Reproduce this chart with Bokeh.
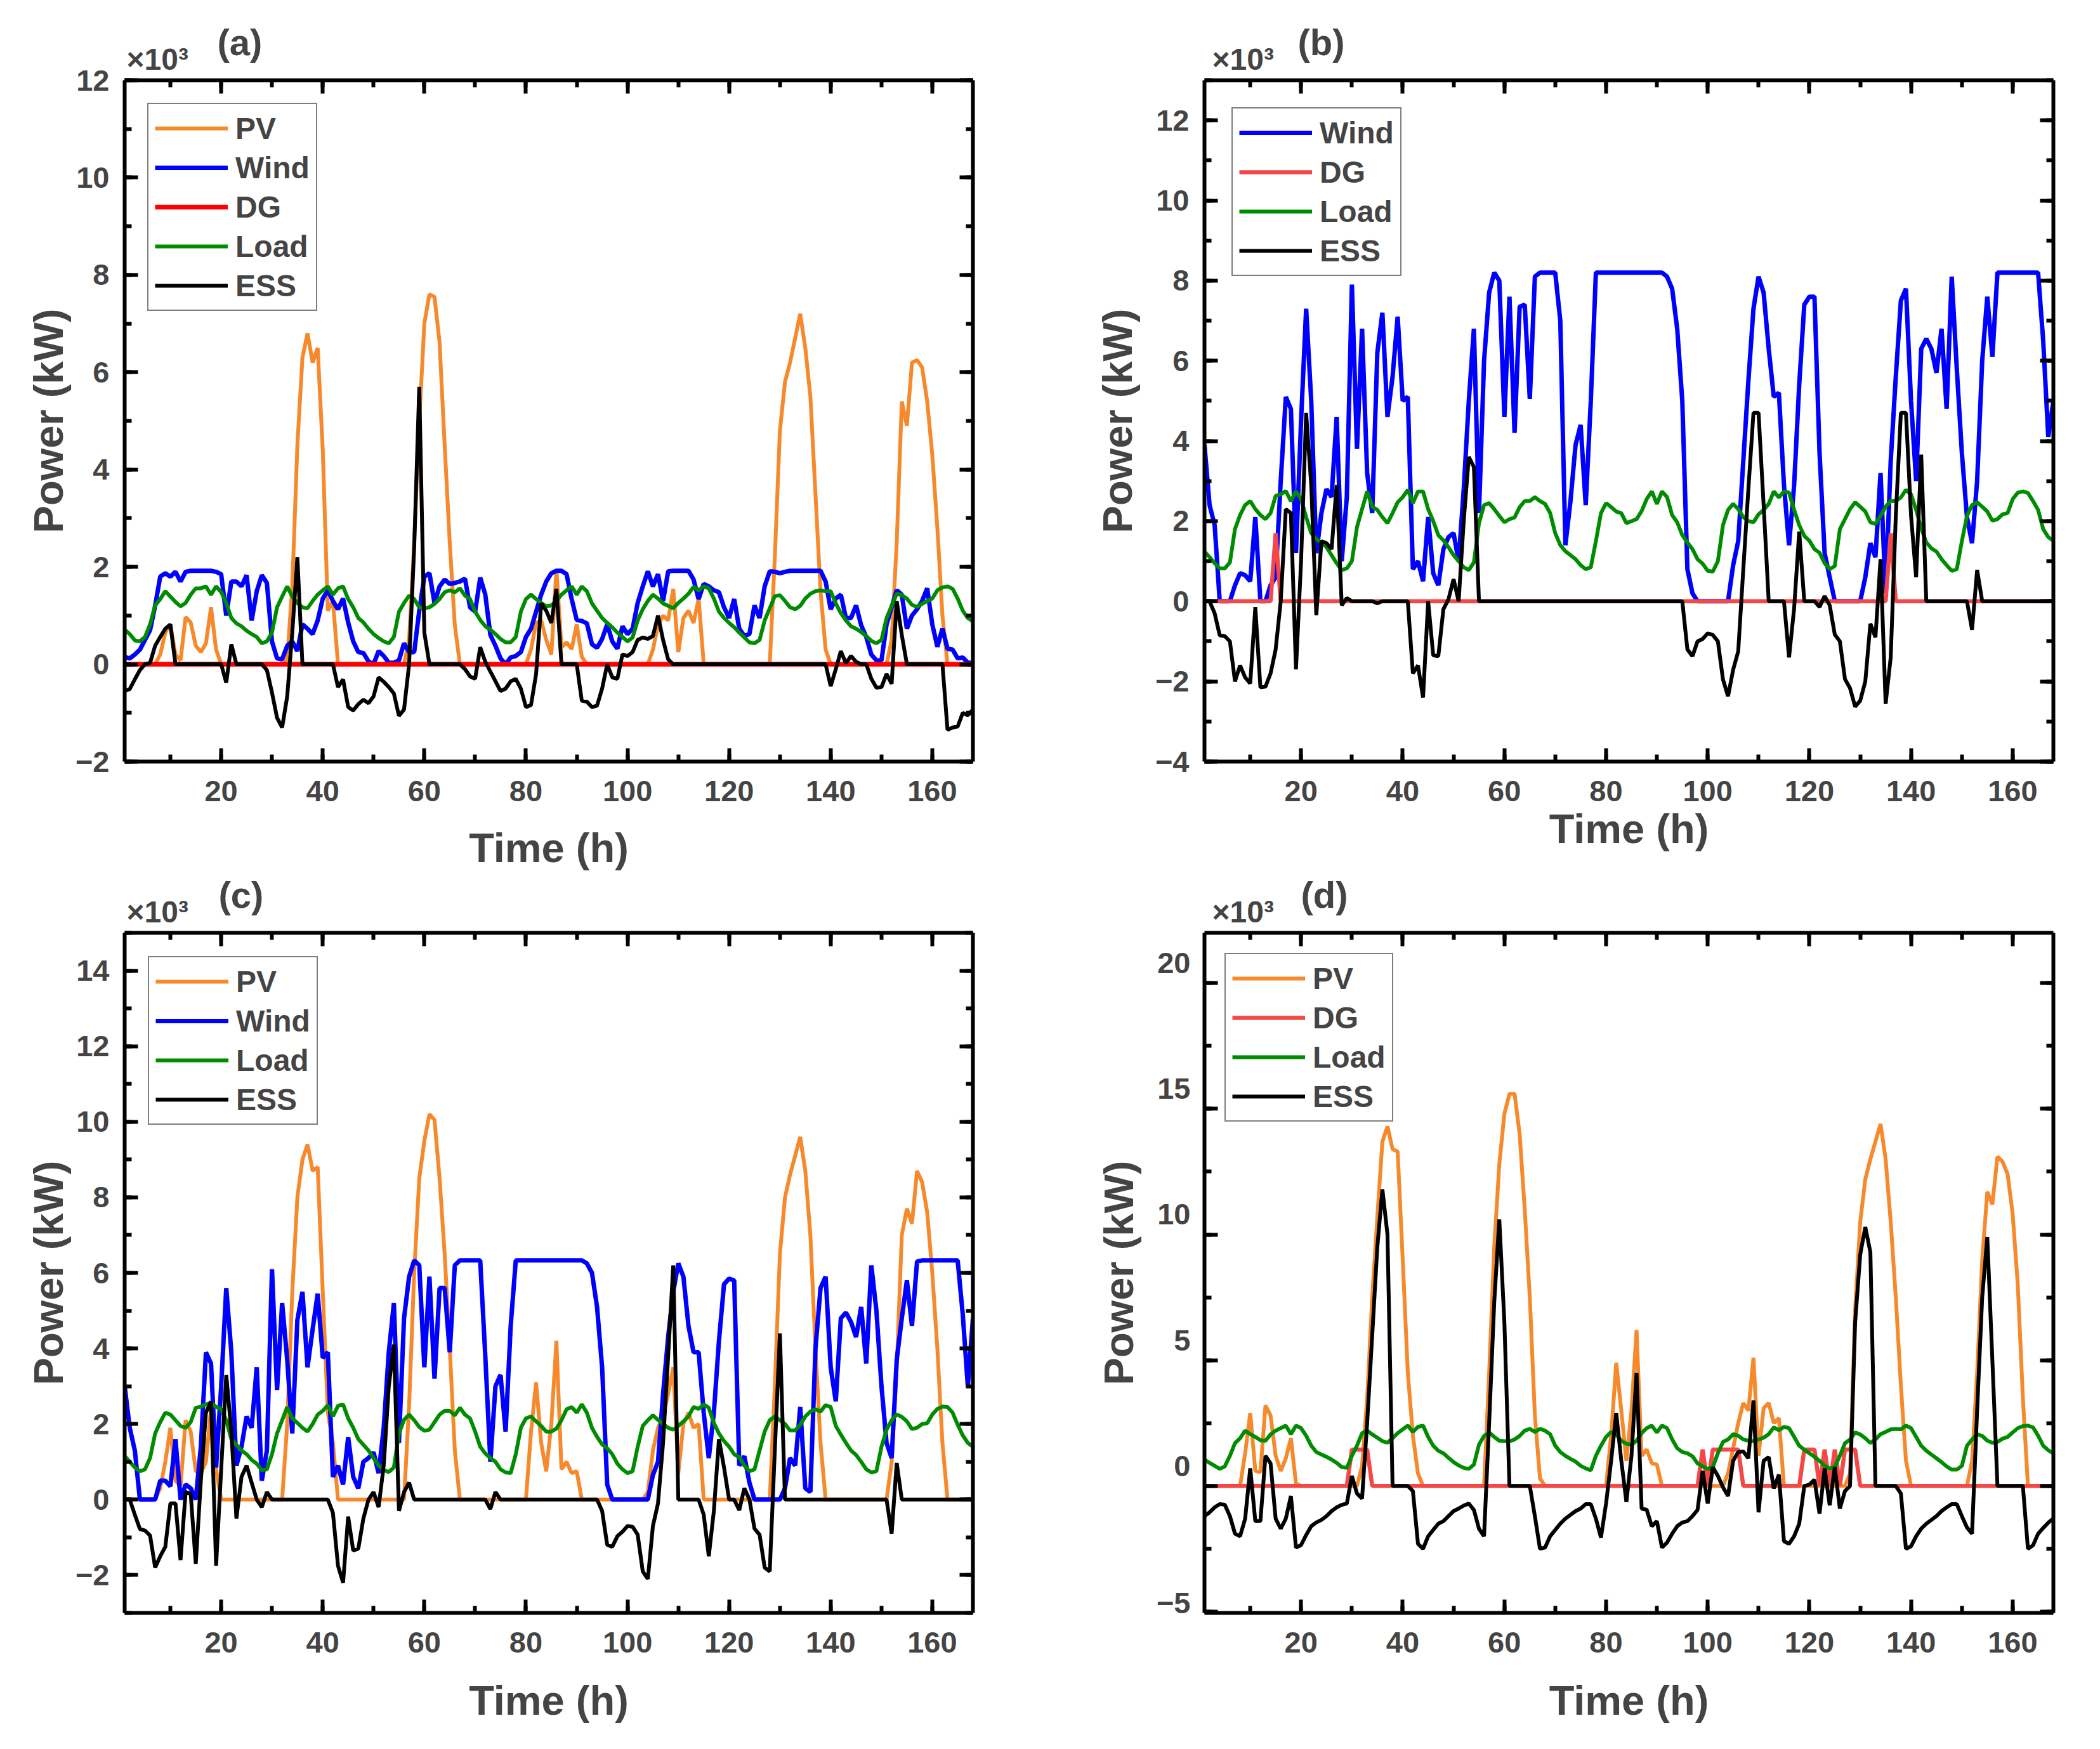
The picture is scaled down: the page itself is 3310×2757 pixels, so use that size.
from bokeh.plotting import figure
from bokeh.layouts import column, row
from bokeh.models import (LinearAxis, SingleIntervalTicker, FixedTicker, Range1d,
                          Title, Legend, LegendItem)
from bokeh.embed import file_html
from bokeh.resources import INLINE

FONT = "Liberation Sans"

hours = list(range(1, 169))

# ---------------- panel (a) ----------------
pv_a = [0, 0, 0, 0, 0, 0, 0, 0.2, 0.65, 0.82, 0.2, 0.08,
        0.97, 0.86, 0.38, 0.25, 0.43, 1.17, 0.3, 0, 0, 0, 0, 0,
        0, 0, 0, 0, 0, 0, 0, 0, 0.1, 1.6, 4.5, 6.3,
        6.8, 6.2, 6.5, 4.4, 1.1, 1.3, 0, 0, 0, 0, 0, 0,
        0, 0, 0, 0, 0, 0, 0, 0, 0.5, 2.5, 5.0, 7.0,
        7.6, 7.55, 6.6, 4.5, 2.5, 0.8, 0, 0, 0, 0, 0, 0,
        0, 0, 0, 0, 0, 0, 0, 0, 0.3, 0.85, 0.9, 0.5,
        0.2, 1.95, 0.35, 0.45, 0.31, 0.82, 0.15, 0, 0, 0, 0, 0,
        0, 0, 0, 0, 0, 0, 0, 0, 0.3, 0.8, 1.0, 0.9,
        1.55, 0.25, 0.95, 1.1, 0.85, 1.35, 0, 0, 0, 0, 0, 0,
        0, 0, 0, 0, 0, 0, 0, 0, 2.2, 4.8, 5.8, 6.2,
        6.7, 7.2, 6.5, 5.5, 3.5, 1.5, 0.3, 0, 0, 0, 0, 0,
        0, 0, 0, 0, 0, 0, 0, 0.5, 2.5, 5.4, 4.9, 6.2,
        6.25, 6.1, 5.4, 4.3, 2.8, 1.0, 0, 0, 0, 0, 0, 0]

wind_a = [0.15, 0.12, 0.2, 0.3, 0.5, 0.7, 1.2, 1.8, 1.87, 1.8, 1.9, 1.7,
          1.9, 1.92, 1.92, 1.92, 1.92, 1.92, 1.9, 1.85, 1.0, 1.7, 1.7, 1.6,
          1.83, 0.9, 1.5, 1.83, 1.67, 0.47, 0.12, 0.1, 0.38, 0.47, 0.27, 0.82,
          0.73, 0.62, 0.9, 1.35, 1.52, 1.3, 1.13, 1.35, 0.86, 0.47, 0.25, 0.23,
          0.06, 0, 0.27, 0.17, 0.03, 0.03, 0.08, 0.43, 0.25, 0.25, 1.1, 1.8,
          1.87, 1.26, 1.6, 1.74, 1.65, 1.67, 1.7, 1.76, 1.17, 1.08, 1.78, 1.43,
          0.6, 0.38, 0.12, 0, 0.14, 0.17, 0.25, 0.56, 0.73, 1.08, 1.43, 1.7,
          1.87, 1.92, 1.92, 1.85, 1.34, 0.91, 0.89, 0.84, 0.41, 0.34, 0.52, 0.82,
          0.47, 0.32, 0.78, 0.62, 0.73, 1.26, 1.6, 1.91, 1.6, 1.85, 1.3, 1.91,
          1.92, 1.92, 1.92, 1.92, 1.74, 1.34, 1.65, 1.6, 1.52, 1.48, 1.17, 0.95,
          1.34, 0.73, 0.58, 0.62, 1.21, 0.95, 1.6, 1.91, 1.9, 1.87, 1.9, 1.92,
          1.92, 1.92, 1.92, 1.92, 1.92, 1.92, 1.7, 1.13, 1.35, 1.43, 0.95, 0.95,
          1.21, 0.8, 0.56, 0.2, 0.08, 0.08, 0.82, 1.17, 1.52, 1.43, 0.73, 1.0,
          1.13, 1.3, 1.56, 0.82, 0.36, 0.73, 0.32, 0.3, 0.12, 0.14, 0.03, 0.03]

dg_a = [0.0] * 168

load_a = [0.71, 0.62, 0.49, 0.47, 0.56, 0.82, 1.21, 1.34, 1.5, 1.39, 1.28, 1.19,
          1.26, 1.43, 1.56, 1.56, 1.6, 1.43, 1.6, 1.48, 1.26, 0.95, 0.84, 0.78,
          0.69, 0.62, 0.56, 0.43, 0.47, 0.65, 1.17, 1.39, 1.6, 1.39, 1.26, 1.17,
          1.15, 1.3, 1.43, 1.52, 1.6, 1.43, 1.56, 1.6, 1.34, 1.17, 0.95, 0.86,
          0.73, 0.62, 0.54, 0.47, 0.43, 0.56, 1.08, 1.26, 1.41, 1.34, 1.17, 1.15,
          1.17, 1.24, 1.34, 1.48, 1.52, 1.48, 1.56, 1.41, 1.34, 1.08, 0.91, 0.78,
          0.71, 0.62, 0.52, 0.45, 0.45, 0.56, 1.08, 1.34, 1.43, 1.34, 1.26, 1.19,
          1.21, 1.3, 1.43, 1.52, 1.6, 1.43, 1.6, 1.5, 1.25, 1.1, 0.95, 0.85,
          0.76, 0.65, 0.56, 0.47, 0.55, 0.9, 1.13, 1.3, 1.43, 1.35, 1.25, 1.2,
          1.15, 1.26, 1.35, 1.45, 1.59, 1.52, 1.6, 1.56, 1.35, 1.08, 0.95, 0.85,
          0.76, 0.65, 0.55, 0.45, 0.43, 0.5, 0.9, 1.15, 1.4, 1.42, 1.3, 1.17,
          1.13, 1.2, 1.35, 1.45, 1.5, 1.52, 1.5, 1.5, 1.25, 1.05, 0.9, 0.78,
          0.73, 0.66, 0.58, 0.48, 0.43, 0.5, 0.95, 1.2, 1.45, 1.42, 1.35, 1.22,
          1.18, 1.24, 1.3, 1.35, 1.52, 1.58, 1.6, 1.55, 1.35, 1.1, 0.95, 0.88]

ess_a = [-0.55, -0.51, -0.31, -0.12, 0, 0.03, 0.38, 0.56, 0.73, 0.82, 0, 0,
         0, 0, 0, 0, 0, 0, 0, 0, -0.38, 0.41, 0, 0,
         0, 0, 0, 0, -0.12, -0.58, -1.1, -1.3, -0.66, 0.65, 2.2, 0,
         0, 0, 0, 0, 0, 0, -0.47, -0.31, -0.88, -0.95, -0.82, -0.73,
         -0.8, -0.66, -0.27, -0.36, -0.47, -0.6, -1.06, -0.93, 0, 2.4, 5.7, 0.65,
         0, 0, 0, 0, 0, 0, 0, -0.1, -0.25, -0.3, 0.35, 0.05,
         -0.15, -0.35, -0.55, -0.5, -0.35, -0.3, -0.5, -0.88, -0.84, -0.2, 1.25, 1.1,
         0.85, 1.55, 0, 0, 0, 0, -0.75, -0.77, -0.88, -0.85, -0.5, 0,
         -0.27, -0.3, 0.2, 0.17, 0.25, 0.5, 0.55, 0.52, 0.58, 1.0, 0.5, 0.1,
         0, 0, 0, 0, 0, 0, 0, 0, 0, 0, 0, 0,
         0, 0, 0, 0, 0, 0, 0, 0, 0, 0, 0, 0,
         0, 0, 0, 0, 0, 0, 0, -0.45, -0.1, 0.27, 0.02, 0.17,
         0.05, 0, 0, -0.3, -0.48, -0.47, -0.2, -0.4, 1.3, 0.6, 0, 0,
         0, 0, 0, 0, 0, 0, -1.35, -1.3, -1.28, -1.0, -1.05, -0.93]

# ---------------- panel (b) ----------------
wind_b = [3.9, 2.4, 1.9, 0, 0, 0, 0.4, 0.7, 0.65, 0.5, 2.1, 0,
          0, 0.4, 0.6, 3.0, 5.1, 4.8, 1.2, 4.5, 7.3, 5.0, 1.2, 2.2,
          2.8, 2.6, 4.6, 1.0, 2.6, 7.9, 3.8, 6.8, 3.2, 2.2, 6.2, 7.2,
          4.6, 5.6, 7.1, 5.0, 5.1, 0.8, 1.0, 0.5, 2.1, 0.7, 0.4, 1.3,
          1.6, 1.7, 1.0, 2.8, 5.0, 6.8, 2.2, 6.0, 7.7, 8.2, 8.0, 4.6,
          7.6, 4.2, 7.35, 7.4, 5.05, 8.1, 8.2, 8.2, 8.2, 8.2, 7.0, 1.4,
          2.5, 3.9, 4.4, 2.4, 5.0, 8.2, 8.2, 8.2, 8.2, 8.2, 8.2, 8.2,
          8.2, 8.2, 8.2, 8.2, 8.2, 8.2, 8.2, 8.1, 7.8, 6.8, 5.0, 0.8,
          0.2, 0, 0, 0, 0, 0, 0, 0, 0.9, 1.5, 3.5, 5.5,
          7.3, 8.1, 7.7, 6.3, 5.1, 5.2, 2.9, 1.4, 2.9, 5.4, 7.4, 7.6,
          7.6, 3.7, 1.2, 0.6, 0, 0, 0, 0, 0, 0, 0.6, 1.45,
          1.1, 3.2, 0.2, 3.5, 5.6, 7.5, 7.8, 5.0, 3.0, 6.3, 6.55, 6.3,
          5.7, 6.8, 4.8, 8.1, 5.8, 3.7, 2.1, 1.45, 3.0, 6.0, 7.6, 6.1,
          8.2, 8.2, 8.2, 8.2, 8.2, 8.2, 8.2, 8.2, 8.2, 6.5, 4.1, 5.0]

dg_b = [0, 0, 0, 0, 0, 0, 0, 0, 0, 0, 0, 0,
        0, 0, 1.7, 0, 0, 0, 0, 0, 0, 0, 0, 0,
        0, 0, 0, 0, 0, 0, 0, 0, 0, 0, 0, 0,
        0, 0, 0, 0, 0, 0, 0, 0, 0, 0, 0, 0,
        0, 0, 0, 0, 0, 0, 0, 0, 0, 0, 0, 0,
        0, 0, 0, 0, 0, 0, 0, 0, 0, 0, 0, 0,
        0, 0, 0, 0, 0, 0, 0, 0, 0, 0, 0, 0,
        0, 0, 0, 0, 0, 0, 0, 0, 0, 0, 0, 0,
        0, 0, 0, 0, 0, 0, 0, 0, 0, 0, 0, 0,
        0, 0, 0, 0, 0, 0, 0, 0, 0, 0, 0, 0,
        0, 0, 0, 0, 0, 0, 0, 0, 0, 0, 0, 0,
        0, 0, 0, 1.7, 0, 0, 0, 0, 0, 0, 0, 0,
        0, 0, 0, 0, 0, 0, 0, 0, 0, 0, 0, 0,
        0, 0, 0, 0, 0, 0, 0, 0, 0, 0, 0, 0]

load_b = [1.24, 1.1, 0.95, 0.82, 0.82, 0.97, 1.8, 2.15, 2.4, 2.5, 2.3, 2.15,
          2.05, 2.2, 2.63, 2.67, 2.75, 2.5, 2.74, 2.55, 2.1, 1.7, 1.55, 1.47,
          1.35, 1.15, 0.95, 0.78, 0.82, 1.0, 1.85, 2.3, 2.74, 2.36, 2.28, 2.1,
          1.95, 2.2, 2.47, 2.6, 2.78, 2.45, 2.74, 2.74, 2.3, 2.0, 1.65, 1.52,
          1.35, 1.15, 1.0, 0.85, 0.78, 0.97, 1.95, 2.4, 2.45, 2.3, 2.13, 1.97,
          2.05, 2.09, 2.35, 2.5, 2.5, 2.6, 2.5, 2.43, 2.2, 1.7, 1.4, 1.25,
          1.15, 1.05, 0.9, 0.8, 0.85, 1.5, 2.2, 2.45, 2.35, 2.24, 2.2, 1.95,
          2.0, 2.05, 2.25, 2.55, 2.74, 2.43, 2.74, 2.6, 2.15, 1.97, 1.65, 1.47,
          1.3, 1.05, 0.94, 0.76, 0.74, 1.0, 1.9, 2.28, 2.43, 2.3, 2.1, 2.0,
          1.97, 2.17, 2.28, 2.43, 2.74, 2.59, 2.74, 2.71, 2.28, 1.9, 1.63, 1.51,
          1.3, 1.21, 0.95, 0.8, 0.88, 1.8, 2.05, 2.3, 2.47, 2.36, 2.24, 1.97,
          1.93, 2.13, 2.36, 2.5, 2.5, 2.59, 2.78, 2.67, 2.28, 1.82, 1.47, 1.32,
          1.24, 1.05, 0.9, 0.76, 0.8, 1.5, 2.13, 2.4, 2.47, 2.36, 2.24, 2.01,
          2.05, 2.17, 2.2, 2.55, 2.71, 2.74, 2.7, 2.5, 2.28, 1.8, 1.6, 1.51]

ess_b = [0, 0, -0.3, -0.85, -0.87, -1.0, -2.0, -1.6, -1.9, -2.05, -0.15, -2.15,
         -2.13, -1.8, -1.2, 0, 2.3, 2.2, -1.7, 1.0, 4.7, 2.9, -0.35, 1.5,
         1.45, 1.3, 2.9, -0.1, 0.08, 0, 0, 0, 0, 0, -0.05, 0,
         0, 0, 0, 0, 0, -1.8, -1.6, -2.4, 0, -1.35, -1.37, -0.2,
         0.05, 0.55, 0, 2.0, 3.6, 3.35, 0, 0, 0, 0, 0, 0,
         0, 0, 0, 0, 0, 0, 0, 0, 0, 0, 0, 0,
         0, 0, 0, 0, 0, 0, 0, 0, 0, 0, 0, 0,
         0, 0, 0, 0, 0, 0, 0, 0, 0, 0, 0, -1.2,
         -1.37, -1.0, -0.94, -0.8, -0.84, -1.0, -1.95, -2.37, -1.71, -1.25, 0.8, 2.8,
         4.7, 4.7, 2.4, 0, 0, 0, 0, -1.4, -0.18, 1.74, 0, 0,
         0, -0.14, 0.13, -0.1, -0.83, -1.0, -1.94, -2.17, -2.63, -2.48, -2.0, -0.56,
         -0.9, 1.05, -2.56, -1.4, 2.13, 4.7, 4.7, 2.13, 0.6, 3.66, 0, 0,
         0, 0, 0, 0, 0, 0, 0, -0.71, 0.78, 0, 0, 0,
         0, 0, 0, 0, 0, 0, 0, 0, 0, 0, 0, 0]

# ---------------- panel (c) ----------------
pv_c = [0, 0, 0, 0, 0, 0, 0, 0.3, 1.0, 1.9, 0.5, 0.35,
        2.1, 1.8, 0.75, 0.7, 1.0, 2.4, 0.8, 0, 0, 0, 0, 0,
        0, 0, 0, 0, 0, 0, 0, 0, 2.0, 5.5, 8.0, 9.0,
        9.4, 8.7, 8.8, 5.5, 2.3, 1.5, 0, 0, 0, 0, 0, 0,
        0, 0, 0, 0, 0, 0, 0, 0, 2.5, 6.0, 8.5, 9.5,
        10.2, 10.05, 8.5, 6.5, 4.0, 1.3, 0, 0, 0, 0, 0, 0,
        0, 0, 0, 0, 0, 0, 0, 0, 1.8, 3.1, 1.5, 0.75,
        2.0, 4.2, 0.8, 1.0, 0.7, 0.75, 0, 0, 0, 0, 0, 0,
        0, 0, 0, 0, 0, 0, 0, 0.2, 1.3, 1.9, 2.2, 2.8,
        3.5, 0.7, 2.0, 2.3, 1.9, 2.0, 0, 0, 0, 0, 0, 0,
        0, 0, 0, 0, 0, 0, 0, 0, 3.0, 6.5, 8.0, 8.6,
        9.1, 9.6, 8.7, 7.0, 4.0, 1.5, 0, 0, 0, 0, 0, 0,
        0, 0, 0, 0, 0, 0, 0, 1.0, 3.5, 7.0, 7.7, 7.3,
        8.7, 8.4, 7.6, 6.0, 4.0, 1.5, 0, 0, 0, 0, 0, 0]

wind_c = [3.0, 1.9, 1.3, 0, 0, 0, 0, 0.5, 0.5, 0.35, 1.6, 0,
          0.4, 0.3, 0, 1.4, 3.9, 3.6, 0.85, 3.0, 5.6, 3.9, 0.9, 1.4,
          2.2, 1.9, 3.5, 0.5, 1.3, 6.1, 2.9, 5.2, 3.7, 1.75, 4.75, 5.5,
          3.5, 4.5, 5.45, 3.75, 3.9, 0.6, 0.9, 0.4, 1.65, 0.6, 0.3, 1.0,
          1.1, 1.25, 0.7, 1.9, 3.9, 5.2, 1.5, 4.8, 5.9, 6.33, 6.2, 3.5,
          5.9, 3.2, 5.6, 5.6, 3.9, 6.2, 6.33, 6.33, 6.33, 6.33, 6.33, 3.8,
          1.0, 3.0, 3.3, 1.8, 4.6, 6.33, 6.33, 6.33, 6.33, 6.33, 6.33, 6.33,
          6.33, 6.33, 6.33, 6.33, 6.33, 6.33, 6.33, 6.25, 6.0, 5.1, 3.5, 0.4,
          0, 0, 0, 0, 0, 0, 0, 0, 0.65, 1.0, 2.8, 4.3,
          5.5, 6.25, 5.9, 4.6, 3.9, 3.9, 2.3, 1.1, 2.3, 4.2, 5.7, 5.85,
          5.8, 0.9, 1.15, 0.45, 0, 0, 0, 0, 0, 0, 0.3, 1.1,
          0.9, 2.45, 0.3, 0.2, 4.0, 5.6, 5.9, 3.5, 2.6, 4.8, 4.95, 4.7,
          4.3, 5.1, 3.6, 6.2, 5.0, 3.0, 1.5, 1.1, 3.7, 4.8, 5.8, 4.6,
          6.3, 6.33, 6.33, 6.33, 6.33, 6.33, 6.33, 6.33, 6.33, 4.9, 3.0, 4.8]

load_c = [1.15, 1.0, 0.85, 0.75, 0.8, 1.1, 1.75, 2.05, 2.3, 2.25, 2.1, 1.95,
          1.9, 2.05, 2.43, 2.46, 2.52, 2.56, 2.45, 2.4, 2.1, 1.6, 1.45, 1.3,
          1.2, 1.05, 0.95, 0.78, 0.8, 1.2, 1.75, 2.1, 2.45, 2.15, 2.03, 1.9,
          1.8, 2.0, 2.25, 2.35, 2.5, 2.2, 2.48, 2.52, 2.15, 1.9, 1.6, 1.45,
          1.3, 1.1, 0.9, 0.78, 0.73, 0.85, 1.75, 2.11, 2.25, 2.1, 1.92, 1.82,
          1.85, 2.05, 2.25, 2.35, 2.35, 2.23, 2.43, 2.25, 2.15, 1.8, 1.4, 1.22,
          1.1, 1.0, 0.8, 0.72, 0.7, 1.2, 1.9, 2.15, 2.2, 2.07, 1.95, 1.8,
          1.8, 1.88, 2.1, 2.39, 2.45, 2.3, 2.52, 2.3, 1.9, 1.66, 1.46, 1.36,
          1.2, 0.95, 0.8, 0.7, 0.75, 1.4, 1.95, 2.1, 2.23, 2.11, 2.0, 1.9,
          1.85, 1.95, 2.07, 2.2, 2.45, 2.4, 2.52, 2.43, 2.03, 1.75, 1.55, 1.4,
          1.2, 1.12, 0.9, 0.75, 0.8, 1.3, 1.8, 2.1, 2.2, 2.1, 2.0, 1.83,
          1.83, 1.98, 2.2, 2.33, 2.39, 2.33, 2.5, 2.45, 1.95, 1.72, 1.5, 1.3,
          1.18, 1.0, 0.8, 0.72, 0.75, 1.4, 1.85, 2.1, 2.25, 2.19, 2.07, 1.87,
          1.9, 2.0, 2.02, 2.25, 2.4, 2.46, 2.45, 2.3, 1.98, 1.7, 1.5, 1.4]

ess_c = [0, 0, -0.4, -0.78, -0.82, -0.95, -1.8, -1.5, -1.25, -0.1, -0.1, -1.6,
         0.2, 0.15, -1.7, 0.5, 2.3, 2.6, -1.75, 0.8, 3.3, 1.8, -0.5, 0.6,
         0.9, 0.45, 0, -0.2, 0.2, 0, 0, 0, 0, 0, 0, 0,
         0, 0, 0, 0, 0, -0.35, -1.75, -2.2, -0.45, -1.35, -1.3, -0.5,
         0, 0.2, -0.2, 0.9, 3.0, 4.1, -0.3, 0.2, 0.45, 0, 0, 0,
         0, 0, 0, 0, 0, 0, 0, 0, 0, 0, 0, 0,
         -0.25, 0.2, 0, 0, 0, 0, 0, 0, 0, 0, 0, 0,
         0, 0, 0, 0, 0, 0, 0, 0, 0, 0, -0.3, -1.2,
         -1.25, -0.97, -0.85, -0.7, -0.72, -0.93, -1.9, -2.1, -0.7, -0.1, 1.5, 3.8,
         6.2, 0, 0, 0, 0, 0, -0.4, -1.5, -0.3, 1.6, 0.85, 0,
         0, -0.28, 0.3, 0, -0.77, -0.93, -1.8, -1.9, 1.3, 4.4, 0, 0,
         0, 0, 0, 0, 0, 0, 0, 0, 0, 0, 0, 0,
         0, 0, 0, 0, 0, 0, 0, -0.9, 0.97, 0, 0, 0,
         0, 0, 0, 0, 0, 0, 0, 0, 0, 0, 0, 0]

# ---------------- panel (d) ----------------
pv_d = [0, 0, 0, 0, 0, 0, 0, 0, 1.3, 2.9, 0.6, 0.55,
        3.2, 2.8, 1.2, 0.6, 1.1, 1.9, 0.1, 0, 0, 0, 0, 0,
        0, 0, 0, 0, 0, 0, 0, 0.8, 3.5, 7.5, 10.7, 13.7,
        14.3, 13.4, 13.3, 9.0, 4.5, 2.0, 0.5, 0, 0, 0, 0, 0,
        0, 0, 0, 0, 0, 0, 0, 0, 4.5, 9.5, 12.8, 14.8,
        15.6, 15.6, 14.0, 11.0, 7.5, 2.8, 0.3, 0, 0, 0, 0, 0,
        0, 0, 0, 0, 0, 0, 0, 0, 2.0, 4.9, 3.0, 1.0,
        3.0, 6.2, 1.2, 1.45, 0.9, 0.85, 0, 0, 0, 0, 0, 0,
        0, 0, 0, 0, 0, 0, 0, 0.5, 1.5, 2.5, 3.3, 3.0,
        5.1, 1.2, 3.1, 3.3, 2.5, 2.7, 0, 0, 0, 0, 0, 0,
        0, 0, 0, 0, 0, 0, 0, 0.5, 7.0, 10.5, 12.2, 13.0,
        13.7, 14.4, 13.0, 10.5, 7.5, 4.0, 1.0, 0, 0, 0, 0, 0,
        0, 0, 0, 0, 0, 0, 0, 1.0, 4.5, 9.0, 11.7, 11.2,
        13.1, 12.9, 12.4, 10.8, 8.0, 3.5, 0, 0, 0, 0, 0, 0]

dg_d = [0, 0, 0, 0, 0, 0, 0, 0, 0, 0, 0, 0,
        0, 0, 0, 0, 0, 0, 0, 0, 0, 0, 0, 0,
        0, 0, 0, 0, 0, 1.45, 1.45, 1.45, 1.45, 0, 0, 0,
        0, 0, 0, 0, 0, 0, 0, 0, 0, 0, 0, 0,
        0, 0, 0, 0, 0, 0, 0, 0, 0, 0, 0, 0,
        0, 0, 0, 0, 0, 0, 0, 0, 0, 0, 0, 0,
        0, 0, 0, 0, 0, 0, 0, 0, 0, 0, 0, 0,
        0, 0, 0, 0, 0, 0, 0, 0, 0, 0, 0, 0,
        0, 0, 1.45, 0, 1.45, 1.45, 1.45, 1.45, 1.45, 1.45, 0, 0,
        0, 0, 0, 0, 0, 0, 0, 0, 0, 0, 1.45, 1.45,
        1.45, 0, 1.45, 0, 1.45, 0, 1.45, 1.45, 1.45, 0, 0, 0,
        0, 0, 0, 0, 0, 0, 0, 0, 0, 0, 0, 0,
        0, 0, 0, 0, 0, 0, 0, 0, 0, 0, 0, 0,
        0, 0, 0, 0, 0, 0, 0, 0, 0, 0, 0, 0]

load_d = [1.05, 0.92, 0.8, 0.68, 0.78, 1.2, 1.7, 1.9, 2.2, 2.06, 1.95, 1.82,
          1.8, 2.05, 2.2, 2.3, 2.4, 2.06, 2.4, 2.3, 2.0, 1.6, 1.35, 1.25,
          1.16, 1.05, 0.92, 0.75, 0.72, 1.2, 1.6, 2.1, 2.2, 2.05, 1.92, 1.78,
          1.72, 1.9, 2.1, 2.25, 2.4, 2.15, 2.35, 2.4, 1.95, 1.6, 1.4, 1.3,
          1.12, 0.95, 0.82, 0.72, 0.68, 0.85, 1.64, 1.99, 2.13, 1.95, 1.8, 1.78,
          1.78, 1.85, 1.99, 2.2, 2.27, 2.15, 2.27, 2.2, 2.06, 1.6, 1.35, 1.2,
          1.08, 0.97, 0.8, 0.7, 0.62, 1.2, 1.6, 1.95, 2.15, 2.05, 1.8, 1.68,
          1.64, 1.8, 2.1, 2.3, 2.4, 2.13, 2.4, 2.3, 1.85, 1.5, 1.35, 1.3,
          1.18, 0.9, 0.78, 0.68, 0.75, 1.3, 1.75, 1.85, 2.06, 2.0, 1.85, 1.8,
          1.78, 1.85, 1.92, 2.06, 2.33, 2.22, 2.35, 2.3, 1.95, 1.6, 1.44, 1.3,
          1.16, 1.0, 0.8, 0.7, 0.75, 1.2, 1.7, 1.85, 2.13, 2.05, 1.9, 1.71,
          1.85, 2.06, 2.15, 2.25, 2.27, 2.25, 2.4, 2.3, 1.95, 1.6, 1.4, 1.25,
          1.1, 0.95, 0.78, 0.65, 0.65, 0.8, 1.6, 1.85, 2.06, 1.99, 1.8, 1.72,
          1.75, 1.88, 1.95, 2.13, 2.3, 2.38, 2.4, 2.33, 2.0, 1.6, 1.42, 1.3]

ess_d = [-1.2, -1.05, -0.85, -0.72, -0.75, -1.2, -1.9, -2.0, -1.3, 0.7, -1.4, -1.4,
         1.2, 0.9, -1.3, -1.7, -1.3, -0.4, -2.45, -2.35, -1.95, -1.6, -1.45, -1.35,
         -1.2, -1.0, -0.85, -0.75, -0.7, 0.4, -0.3, -0.5, 2.5, 6.0, 9.5, 11.8,
         10.0, 0, 0, 0, 0, -0.2, -2.3, -2.5, -2.0, -1.75, -1.5, -1.4,
         -1.2, -1.0, -0.9, -0.78, -0.7, -0.95, -1.7, -2.0, 2.5, 7.3, 10.6, 6.5,
         0, 0, 0, 0, 0, -1.2, -2.5, -2.45, -2.0, -1.75, -1.5, -1.3,
         -1.15, -1.0, -0.9, -0.72, -0.72, -1.3, -2.05, -0.7, 1.0, 2.9, 1.0, -0.64,
         1.2, 4.5, -0.9, -0.95, -1.6, -1.4, -2.45, -2.25, -1.9, -1.6, -1.45, -1.4,
         -1.2, -0.95, 0.6, -0.7, 0.75, 0.4, -0.05, -0.4, 1.0, 1.35, 1.37, 1.1,
         3.4, -1.05, 1.0, 1.15, -0.1, 0.45, -2.2, -2.3, -2.0, -1.5, 0, 0.05,
         0.25, -1.1, 0.7, -0.77, 0.75, -0.9, -0.2, 0, 6.5, 9.2, 10.3, 9.3,
         0, 0, 0, 0, 0, -0.3, -2.5, -2.4, -2.0, -1.7, -1.5, -1.35,
         -1.2, -1.0, -0.85, -0.72, -0.72, -1.2, -1.65, -1.9, 3.0, 7.5, 9.9, 5.0,
         0, 0, 0, 0, 0, 0, -2.5, -2.36, -1.9, -1.67, -1.46, -1.3]

# in panel (d) the tick labels sit a little above their ticks
d_label_pos = [-4.67, 0.8, 5.8, 10.8, 15.8, 20.8]
d_label_text = ["\u22125", "0", "5", "10", "15", "20"]

ORANGE = "#F7892D"
BLUE = "#0000FF"
RED = "#FF0000"
RED_LIGHT = "#F44848"
GREEN = "#008C00"
BLACK = "#000000"


def style_axis(ax):
    ax.axis_line_width = 6
    ax.major_tick_in = 21
    ax.major_tick_out = 0
    ax.minor_tick_in = 11
    ax.minor_tick_out = 0
    ax.major_tick_line_width = 6
    ax.minor_tick_line_width = 6
    ax.major_label_text_font = FONT
    ax.major_label_text_font_style = "bold"
    ax.major_label_text_font_size = "47px"
    ax.axis_label_text_font = FONT
    ax.axis_label_text_font_style = "bold"
    ax.axis_label_text_font_size = "65px"


def hide_labels(ax, standoff=0):
    ax.major_label_text_font_size = "1px"
    ax.major_label_text_color = None
    ax.major_label_standoff = standoff


def make_panel(series, y_lo, y_hi, y_step, minus_labels, width, height,
               borders, tag, tag_x, exp_x, leg_margin, x_title_gap, y_title_gap,
               label_pos=None, label_text=None):
    left, right, top, bottom = borders
    p = figure(width=width, height=height,
               x_range=Range1d(1, 168), y_range=Range1d(y_lo, y_hi),
               output_backend="svg", toolbar_location=None, tools="",
               x_axis_label="Time (h)", y_axis_label="Power (kW)",
               min_border_left=left, min_border_right=right,
               min_border_top=top, min_border_bottom=bottom)
    p.title.visible = False
    p.grid.visible = False
    p.outline_line_color = None

    xt = SingleIntervalTicker(interval=20, num_minor_ticks=2)
    yt = SingleIntervalTicker(interval=y_step, num_minor_ticks=2)
    x_bottom = p.below[0]
    y_left = p.left[0]
    x_bottom.ticker = xt
    y_left.ticker = yt
    x_top = LinearAxis(ticker=xt)
    y_right = LinearAxis(ticker=yt)
    p.add_layout(x_top, "above")
    p.add_layout(y_right, "right")
    for ax in (x_bottom, y_left, x_top, y_right):
        style_axis(ax)

    # mirrored axes: ticks only
    hide_labels(x_top, 28)
    hide_labels(y_right, 0)

    x_bottom.major_label_standoff = 30
    x_bottom.axis_label_standoff = x_title_gap

    if label_pos is None:
        y_left.major_label_standoff = 24
        y_left.axis_label_standoff = y_title_gap
        y_left.major_label_overrides = {-v: "\u2212" + str(v) for v in minus_labels}
    else:
        # ticks stay on the frame, labels drawn by a second axis just outside
        hide_labels(y_left, 0)
        y_left.axis_label = None
        y_lab = LinearAxis(ticker=FixedTicker(ticks=label_pos),
                           major_label_overrides=dict(zip(label_pos, label_text)),
                           axis_label="Power (kW)")
        style_axis(y_lab)
        y_lab.axis_line_color = None
        y_lab.major_tick_line_color = None
        y_lab.minor_tick_line_color = None
        y_lab.major_label_standoff = 22
        y_lab.axis_label_standoff = y_title_gap
        p.add_layout(y_lab, "left")

    items = []
    for name, vals, color, lw in series:
        r = p.line(hours, vals, line_color=color, line_width=lw)
        items.append(LegendItem(label=name, renderers=[r]))
    legend = Legend(items=items, location="top_left", margin=leg_margin,
                    label_text_font=FONT, label_text_font_style="bold",
                    label_text_font_size="48px", glyph_width=115,
                    glyph_height=56, label_height=56, spacing=6, padding=10,
                    label_standoff=12, border_line_color="black",
                    border_line_width=2, background_fill_alpha=1.0)
    p.add_layout(legend)

    # "x10^3" just above the frame, panel tag further out (overlapping row)
    p.add_layout(Title(text="\u00d710\u00b3", align="left", offset=exp_x,
                       standoff=13, text_font=FONT, text_font_style="bold",
                       text_font_size="48px", vertical_align="bottom"), "above")
    p.add_layout(Title(text=tag, align="left", offset=tag_x,
                       standoff=-80, text_font=FONT, text_font_style="bold",
                       text_font_size="58px", vertical_align="bottom"), "above")
    return p


pa = make_panel([("PV", pv_a, ORANGE, 6), ("Wind", wind_a, BLUE, 7),
                 ("DG", dg_a, RED, 7.5), ("Load", load_a, GREEN, 6),
                 ("ESS", ess_a, BLACK, 6)],
                -2, 12, 2, [2], 1690, 1375, (196, 157, 126, 174),
                "(a)", 146, 3, 36, 34, 3)

pb = make_panel([("Wind", wind_b, BLUE, 7), ("DG", dg_b, RED_LIGHT, 6.5),
                 ("Load", load_b, GREEN, 6), ("ESS", ess_b, BLACK, 6)],
                -4, 13, 2, [2, 4], 1604, 1375, (208, 58, 126, 174),
                "(b)", 147, 12, 43, 4, 20)

pc = make_panel([("PV", pv_c, ORANGE, 6), ("Wind", wind_c, BLUE, 7),
                 ("Load", load_c, GREEN, 6), ("ESS", ess_c, BLACK, 6)],
                -3, 15, 2, [2], 1690, 1367, (196, 157, 95, 200),
                "(c)", 148, 3, 37, 36, 3)

pd_ = make_panel([("PV", pv_d, ORANGE, 6), ("DG", dg_d, RED_LIGHT, 6.5),
                  ("Load", load_d, GREEN, 6), ("ESS", ess_d, BLACK, 6)],
                 -5.05, 22, 5, [5], 1604, 1367, (208, 58, 95, 200),
                 "(d)", 152, 12, 32, 36, 20, d_label_pos, d_label_text)

layout = column(row(pa, pb), row(pc, pd_))

open("out.html", "w").write(file_html(layout, INLINE))
